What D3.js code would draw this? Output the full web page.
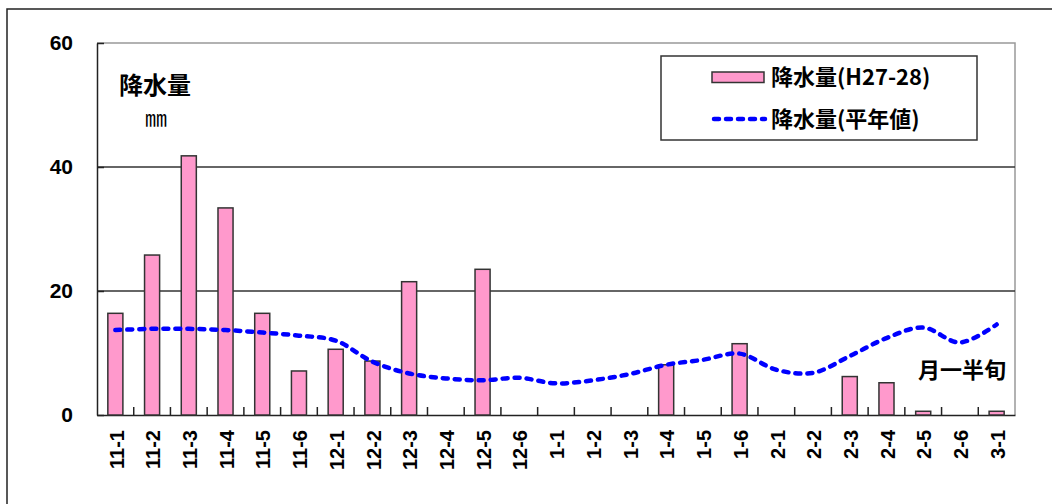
<!DOCTYPE html>
<html>
<head>
<meta charset="utf-8">
<script src="https://cdn.jsdelivr.net/npm/d3@7"></script>
<style>
  body { margin: 0; background: #fff; }
  .axis text { font-family: "Liberation Sans", Arial, sans-serif; font-weight: bold; font-size: 20px; fill: #000; }
  .jp { font-family: "Noto Sans CJK JP", sans-serif; font-weight: bold; fill: #000; }
</style>
</head>
<body>
<div id="chart"><svg><g class="chart"></g><g class="legend"></g></svg></div>
<script>
// 半旬 categories, Nov 1st pentad to Mar 1st pentad
const categories = ['11-1', '11-2', '11-3', '11-4', '11-5', '11-6',
  '12-1', '12-2', '12-3', '12-4', '12-5', '12-6',
  '1-1', '1-2', '1-3', '1-4', '1-5', '1-6',
  '2-1', '2-2', '2-3', '2-4', '2-5', '2-6', '3-1']

// 降水量(H27-28), mm
const rainThisYear = [16.4, 25.8, 41.8, 33.4, 16.4, 7.1,
  10.6, 8.7, 21.5, 0, 23.5, 0,
  0, 0, 0, 8.1, 0, 11.5,
  0, 0, 6.2, 5.2, 0.6, 0, 0.6]

// 降水量(平年値), mm
const rainNormal = [13.7, 13.9, 13.9, 13.7, 13.3, 12.8,
  12.0, 8.6, 6.7, 5.9, 5.6, 6.0,
  5.1, 5.6, 6.6, 8.1, 8.9, 9.9,
  7.3, 6.8, 9.5, 12.4, 14.1, 11.7, 14.6]

const yTicks = [0, 20, 40, 60]
const seriesNames = ['降水量(H27-28)', '降水量(平年値)']

const width = 1052,
  height = 504
const MARGIN = {
  top: 43,
  right: 37,
  bottom: 89,
  left: 97
}
const boundedWidth = width - MARGIN.left - MARGIN.right
const boundedHeight = height - MARGIN.top - MARGIN.bottom

const BAR_PINK = '#ff99cc'
const LINE_BLUE = '#0000ff'

const $svg = d3.select('#chart svg').attr('width', width).attr('height', height)
const $gVis = $svg.select('.chart').attr('transform', `translate(${MARGIN.left}, ${MARGIN.top})`)
const $gLegend = $svg.select('.legend')

const xScale = d3.scaleBand().domain(categories).range([0, boundedWidth]).padding(0)
const yScale = d3.scaleLinear().domain([0, 60]).range([boundedHeight, 0])

// outer frame (only its top and left edges fall inside the picture)
$svg.insert('rect', ':first-child')
  .attr('x', 7).attr('y', 9)
  .attr('width', width + 20).attr('height', height + 20)
  .attr('fill', '#fff')
  .attr('stroke', '#222')
  .attr('stroke-width', 1.5)

// plot border, top and right in grey
$gVis.append('path')
  .attr('d', `M0,0H${boundedWidth}V${boundedHeight}`)
  .attr('fill', 'none')
  .attr('stroke', '#999')
  .attr('stroke-width', 1.5)

// gridlines
$gVis.append('g')
  .selectAll('line')
  .data(yTicks.filter(d => d > 0 && d < 60))
  .join('line')
  .attr('x1', 0).attr('x2', boundedWidth)
  .attr('y1', d => yScale(d)).attr('y2', d => yScale(d))
  .attr('stroke', '#333')
  .attr('stroke-width', 1.5)

// y axis
const yAxis = $gVis.append('g')
  .attr('class', 'axis y-axis')
  .call(d3.axisLeft(yScale).tickValues(yTicks).tickSize(-7).tickSizeOuter(0).tickPadding(24))
yAxis.select('.domain').attr('stroke', '#222').attr('stroke-width', 1.5)
yAxis.selectAll('.tick line').attr('stroke', '#222').attr('stroke-width', 1.5)
yAxis.selectAll('.tick text').style('font-size', '21px')

// x axis: labels at band centres, ticks at band edges
const xAxis = $gVis.append('g')
  .attr('class', 'axis x-axis')
  .attr('transform', `translate(0, ${boundedHeight})`)
  .call(d3.axisBottom(xScale).tickSize(0).tickSizeOuter(0))
xAxis.select('.domain').attr('stroke', '#222').attr('stroke-width', 1.5)
xAxis.selectAll('.tick text')
  .attr('transform', 'rotate(-90)')
  .attr('text-anchor', 'end')
  .attr('x', -15)
  .attr('y', 1)
  .attr('dy', '0.36em')

const edges = categories.slice(1).map(c => xScale(c))
xAxis.append('g')
  .selectAll('line')
  .data(edges)
  .join('line')
  .attr('x1', d => d).attr('x2', d => d)
  .attr('y1', 0).attr('y2', -8)
  .attr('stroke', '#222')
  .attr('stroke-width', 1.5)

// bars
const barWidth = xScale.bandwidth() * 0.41
$gVis.append('g')
  .selectAll('rect')
  .data(categories.map((c, i) => ({ cat: c, value: rainThisYear[i] })).filter(d => d.value > 0))
  .join('rect')
  .attr('class', 'rain-bar')
  .attr('x', d => xScale(d.cat) + xScale.bandwidth() / 2 - barWidth / 2)
  .attr('y', d => yScale(d.value))
  .attr('width', barWidth)
  .attr('height', d => yScale(0) - yScale(d.value))
  .attr('fill', BAR_PINK)
  .attr('stroke', '#333')
  .attr('stroke-width', 1.5)

// normal line
const line = d3.line()
  .x((d, i) => xScale(categories[i]) + xScale.bandwidth() / 2)
  .y(d => yScale(d))
  .curve(d3.curveCatmullRom.alpha(0.5))

$gVis.append('path')
  .datum(rainNormal)
  .attr('class', 'normal-line')
  .attr('d', line)
  .attr('fill', 'none')
  .attr('stroke', LINE_BLUE)
  .attr('stroke-width', 4.5)
  .attr('stroke-linecap', 'round')
  .attr('stroke-dasharray', '5,7')

// labels
$svg.append('text').attr('class', 'jp')
  .attr('x', 119).attr('y', 94)
  .style('font-size', '24px')
  .text('降水量')

$svg.append('text').attr('class', 'jp')
  .attr('x', 145).attr('y', 126)
  .style('font-size', '22px')
  .style('font-weight', 'normal')
  .text('㎜')

$svg.append('text').attr('class', 'jp')
  .attr('x', 1006).attr('y', 378)
  .attr('text-anchor', 'end')
  .style('font-size', '22px')
  .text('月一半旬')

// legend
$gLegend.append('rect')
  .attr('x', 661).attr('y', 56)
  .attr('width', 316).attr('height', 84)
  .attr('fill', '#fff')
  .attr('stroke', '#333')
  .attr('stroke-width', 1.5)

$gLegend.append('rect')
  .attr('x', 712).attr('y', 72)
  .attr('width', 52).attr('height', 10.5)
  .attr('fill', BAR_PINK)
  .attr('stroke', '#333')
  .attr('stroke-width', 1.5)

$gLegend.append('line')
  .attr('x1', 714).attr('x2', 765)
  .attr('y1', 119).attr('y2', 119)
  .attr('stroke', LINE_BLUE)
  .attr('stroke-width', 4.5)
  .attr('stroke-linecap', 'round')
  .attr('stroke-dasharray', '5,7')

$gLegend.selectAll('.legend-text')
  .data(seriesNames)
  .join('text')
  .attr('class', 'jp legend-text')
  .attr('x', 771)
  .attr('y', (d, i) => 85 + i * 42)
  .style('font-size', '22px')
  .text(d => d)
</script>
</body>
</html>
